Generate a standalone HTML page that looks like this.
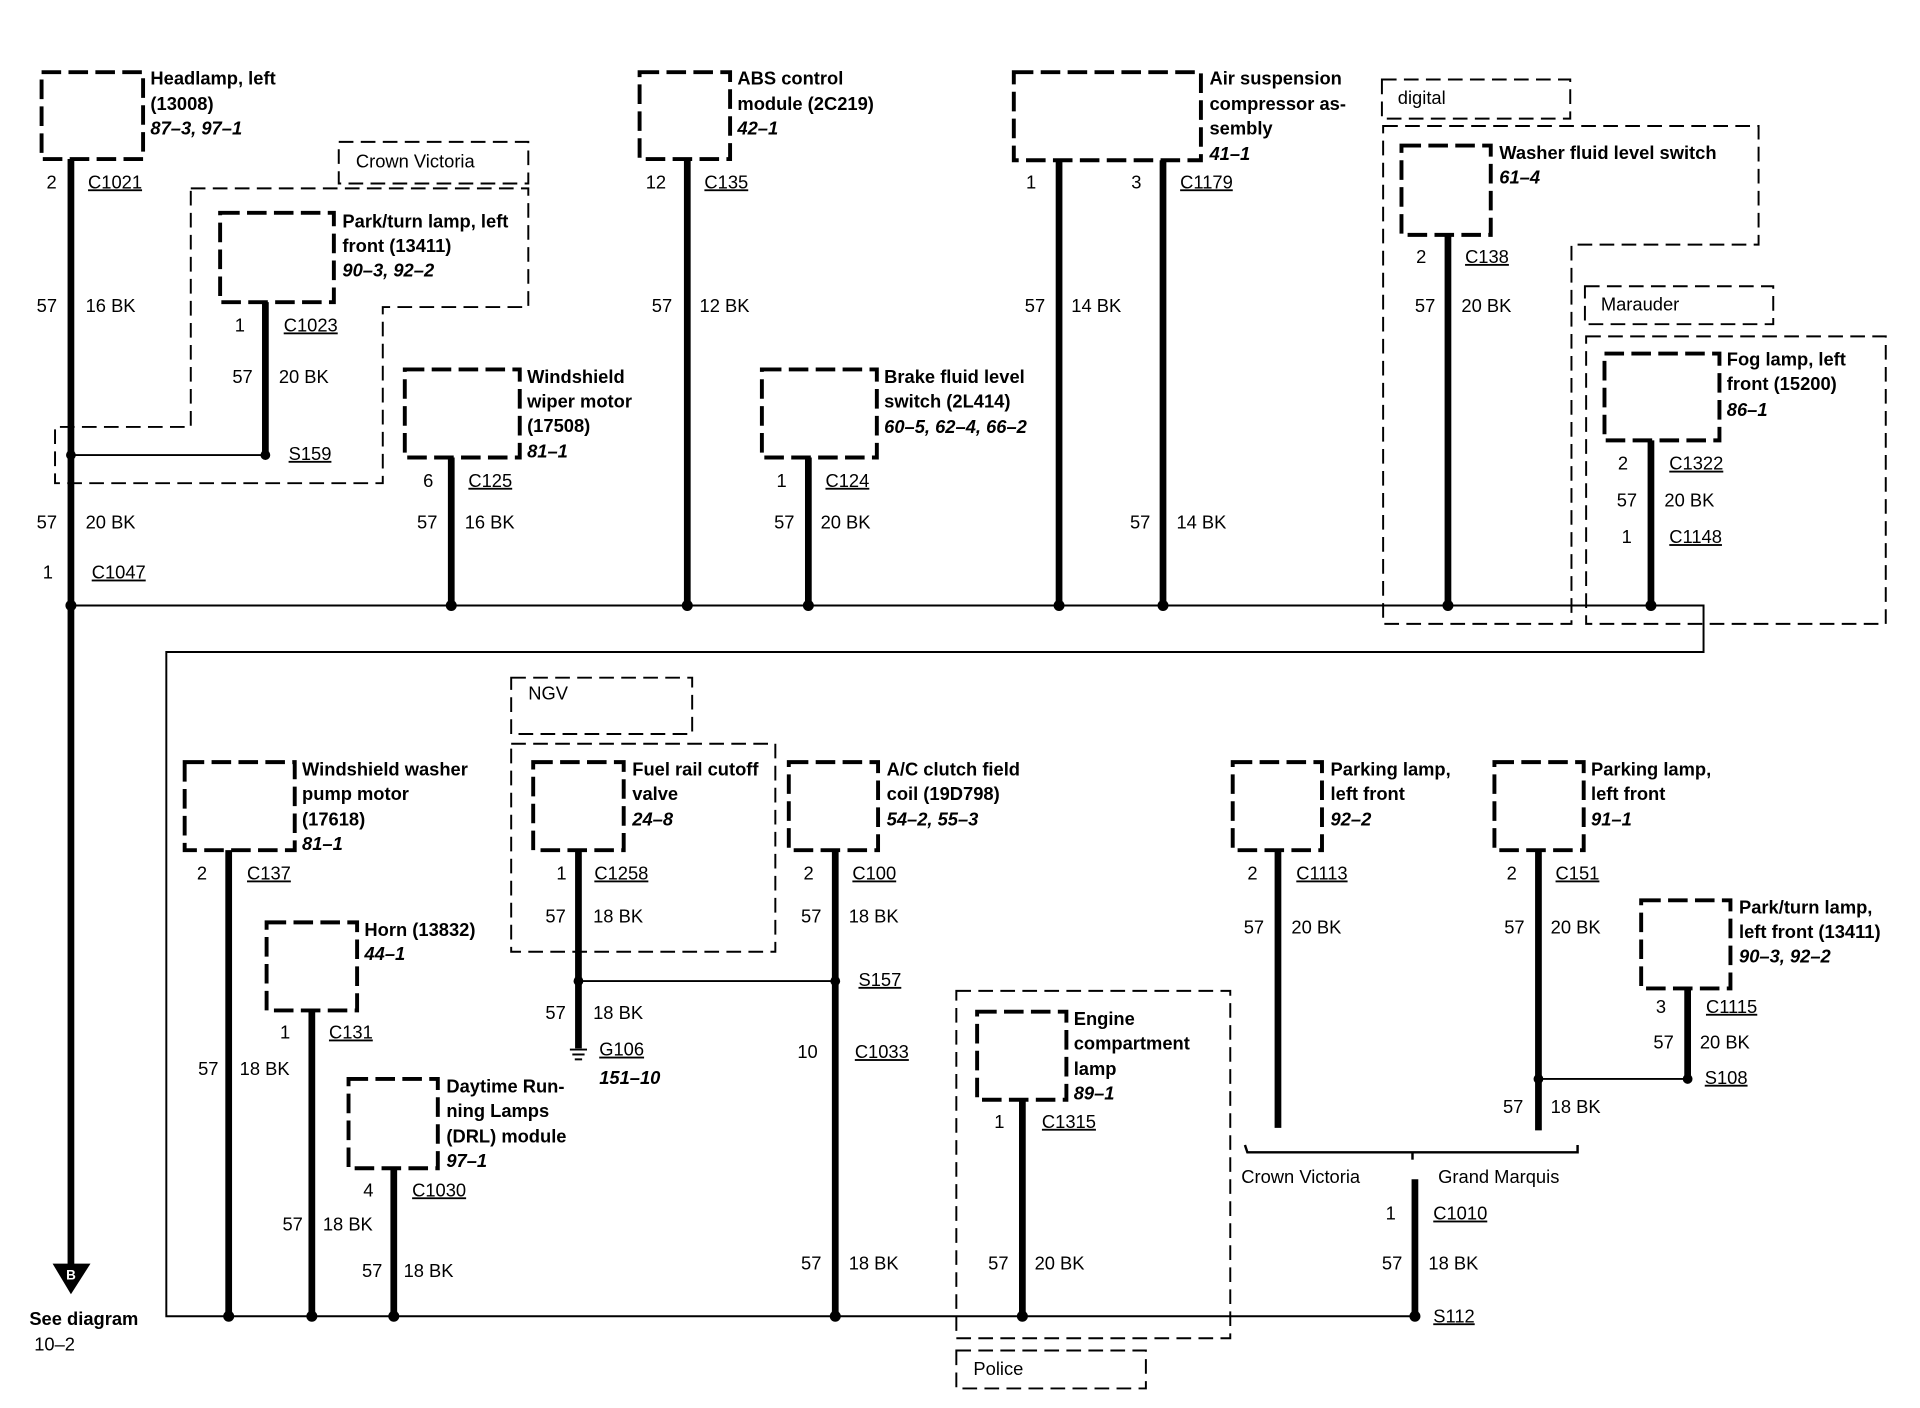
<!DOCTYPE html>
<html><head><meta charset="utf-8"><style>
html,body{margin:0;padding:0;background:#fff;}
svg{display:block;}
text{font-family:"Liberation Sans",Arial,sans-serif;font-size:15px;fill:#000;dominant-baseline:middle;}
.b{font-weight:bold;}
.i{font-weight:bold;font-style:italic;}
.u{text-decoration:underline;}
.bx{fill:none;stroke:#000;stroke-width:3.2;stroke-dasharray:16 6;}
.rg{fill:none;stroke:#000;stroke-width:1.6;stroke-dasharray:12 6;}
.w{stroke:#000;stroke-width:5.5;fill:none;}
.t{stroke:#000;stroke-width:1.6;fill:none;}
</style></head><body>
<svg width="1920" height="1408" viewBox="0 -2 1570 1151" preserveAspectRatio="none" xmlns="http://www.w3.org/2000/svg">
<polyline class="t" points="58,493 1393,493 1393,531 136,531 136,1074 1157,1074"/>
<line class="t" x1="58" y1="370" x2="217" y2="370"/>
<line class="t" x1="473" y1="800" x2="683" y2="800"/>
<line class="t" x1="1258" y1="880" x2="1380" y2="880"/>
<rect class="rg" x="277" y="114" width="155" height="34"/><text x="291" y="131">Crown Victoria</text>
<polygon class="rg" points="156,152 432,152 432,249 313,249 313,393 45,393 45,347 156,347"/>
<rect class="rg" x="1130" y="63" width="154" height="32"/><text x="1143" y="79">digital</text>
<polygon class="rg" points="1131,101 1438,101 1438,198 1285,198 1285,508 1131,508"/>
<rect class="rg" x="1296" y="232" width="154" height="31"/><text x="1309" y="248">Marauder</text>
<rect class="rg" x="1297" y="273" width="245" height="235"/>
<rect class="rg" x="418" y="552" width="148" height="46"/><text x="432" y="566">NGV</text>
<rect class="rg" x="418" y="606" width="216" height="170"/>
<rect class="rg" x="782" y="808" width="224" height="284"/>
<rect class="rg" x="782" y="1102" width="155" height="31"/><text x="796" y="1118">Police</text>
<rect class="bx" x="34" y="57" width="83" height="71"/>
<text class="b" x="123" y="63">Headlamp, left</text><text class="b" x="123" y="84">(13008)</text><text class="i" x="123" y="104">87–3, 97–1</text>
<line class="w" x1="58" y1="128" x2="58" y2="1032"/>
<polygon points="43,1031 74,1031 58,1056"/><text x="58" y="1041" text-anchor="middle" style="fill:#fff;font-size:11px;font-weight:bold">B</text>
<text x="38" y="148">2</text><text class="u" x="72" y="148">C1021</text>
<text x="30" y="249">57</text><text x="70" y="249">16 BK</text>
<circle cx="58" cy="370" r="4"/>
<text x="30" y="426">57</text><text x="70" y="426">20 BK</text>
<text x="35" y="467">1</text><text class="u" x="75" y="467">C1047</text>
<circle cx="58" cy="493" r="4.5"/>
<text class="b" x="24" y="1077">See diagram</text><text x="28" y="1098">10–2</text>
<rect class="bx" x="180" y="172" width="93" height="73"/>
<text class="b" x="280" y="180">Park/turn lamp, left</text><text class="b" x="280" y="200">front (13411)</text><text class="i" x="280" y="220">90–3, 92–2</text>
<line class="w" x1="217" y1="245" x2="217" y2="370"/><circle cx="217" cy="370" r="4"/>
<text x="192" y="265">1</text><text class="u" x="232" y="265">C1023</text>
<text x="190" y="307">57</text><text x="228" y="307">20 BK</text>
<text class="u" x="236" y="370">S159</text>
<rect class="bx" x="331" y="300" width="94" height="72"/>
<text class="b" x="431" y="307">Windshield</text><text class="b" x="431" y="327">wiper motor</text><text class="b" x="431" y="347">(17508)</text><text class="i" x="431" y="368">81–1</text>
<line class="w" x1="369" y1="372" x2="369" y2="493"/><circle cx="369" cy="493" r="4.5"/>
<text x="346" y="392">6</text><text class="u" x="383" y="392">C125</text>
<text x="341" y="426">57</text><text x="380" y="426">16 BK</text>
<rect class="bx" x="523" y="57" width="74" height="71"/>
<text class="b" x="603" y="63">ABS control</text><text class="b" x="603" y="84">module (2C219)</text><text class="i" x="603" y="104">42–1</text>
<line class="w" x1="562" y1="128" x2="562" y2="493"/><circle cx="562" cy="493" r="4.5"/>
<text x="528" y="148">12</text><text class="u" x="576" y="148">C135</text>
<text x="533" y="249">57</text><text x="572" y="249">12 BK</text>
<rect class="bx" x="623" y="300" width="94" height="72"/>
<text class="b" x="723" y="307">Brake fluid level</text><text class="b" x="723" y="327">switch (2L414)</text><text class="i" x="723" y="348">60–5, 62–4, 66–2</text>
<line class="w" x1="661" y1="372" x2="661" y2="493"/><circle cx="661" cy="493" r="4.5"/>
<text x="635" y="392">1</text><text class="u" x="675" y="392">C124</text>
<text x="633" y="426">57</text><text x="671" y="426">20 BK</text>
<rect class="bx" x="829" y="57" width="153" height="72"/>
<text class="b" x="989" y="63">Air suspension</text><text class="b" x="989" y="84">compressor as-</text><text class="b" x="989" y="104">sembly</text><text class="i" x="989" y="125">41–1</text>
<line class="w" x1="866" y1="129" x2="866" y2="493"/><line class="w" x1="951" y1="129" x2="951" y2="493"/>
<circle cx="866" cy="493" r="4.5"/><circle cx="951" cy="493" r="4.5"/>
<text x="839" y="148">1</text><text x="925" y="148">3</text><text class="u" x="965" y="148">C1179</text>
<text x="838" y="249">57</text><text x="876" y="249">14 BK</text>
<text x="924" y="426">57</text><text x="962" y="426">14 BK</text>
<rect class="bx" x="1146" y="117" width="73" height="73"/>
<text class="b" x="1226" y="124">Washer fluid level switch</text><text class="i" x="1226" y="144">61–4</text>
<line class="w" x1="1184" y1="190" x2="1184" y2="493"/><circle cx="1184" cy="493" r="4.5"/>
<text x="1158" y="209">2</text><text class="u" x="1198" y="209">C138</text>
<text x="1157" y="249">57</text><text x="1195" y="249">20 BK</text>
<rect class="bx" x="1312" y="287" width="94" height="71"/>
<text class="b" x="1412" y="293">Fog lamp, left</text><text class="b" x="1412" y="313">front (15200)</text><text class="i" x="1412" y="334">86–1</text>
<line class="w" x1="1350" y1="358" x2="1350" y2="493"/><circle cx="1350" cy="493" r="4.5"/>
<text x="1323" y="378">2</text><text class="u" x="1365" y="378">C1322</text>
<text x="1322" y="408">57</text><text x="1361" y="408">20 BK</text>
<text x="1326" y="438">1</text><text class="u" x="1365" y="438">C1148</text>
<rect class="bx" x="151" y="621" width="90" height="72"/>
<text class="b" x="247" y="628">Windshield washer</text><text class="b" x="247" y="648">pump motor</text><text class="b" x="247" y="669">(17618)</text><text class="i" x="247" y="689">81–1</text>
<line class="w" x1="187" y1="693" x2="187" y2="1074"/><circle cx="187" cy="1074" r="4.5"/>
<text x="161" y="713">2</text><text class="u" x="202" y="713">C137</text>
<text x="162" y="873">57</text><text x="196" y="873">18 BK</text>
<rect class="bx" x="218" y="752" width="74" height="72"/>
<text class="b" x="298" y="759">Horn (13832)</text><text class="i" x="298" y="779">44–1</text>
<line class="w" x1="255" y1="824" x2="255" y2="1074"/><circle cx="255" cy="1074" r="4.5"/>
<text x="229" y="843">1</text><text class="u" x="269" y="843">C131</text>
<text x="231" y="1000">57</text><text x="264" y="1000">18 BK</text>
<rect class="bx" x="285" y="880" width="73" height="73"/>
<text class="b" x="365" y="887">Daytime Run-</text><text class="b" x="365" y="907">ning Lamps</text><text class="b" x="365" y="928">(DRL) module</text><text class="i" x="365" y="948">97–1</text>
<line class="w" x1="322" y1="953" x2="322" y2="1074"/><circle cx="322" cy="1074" r="4.5"/>
<text x="297" y="972">4</text><text class="u" x="337" y="972">C1030</text>
<text x="296" y="1038">57</text><text x="330" y="1038">18 BK</text>
<rect class="bx" x="436" y="621" width="74" height="72"/>
<text class="b" x="517" y="628">Fuel rail cutoff</text><text class="b" x="517" y="648">valve</text><text class="i" x="517" y="669">24–8</text>
<line class="w" x1="473" y1="693" x2="473" y2="855"/><circle cx="473" cy="800" r="4"/>
<line class="t" x1="466" y1="856" x2="480" y2="856"/><line class="t" x1="468" y1="860" x2="478" y2="860"/><line class="t" x1="470" y1="864" x2="476" y2="864"/>
<text x="455" y="713">1</text><text class="u" x="486" y="713">C1258</text>
<text x="446" y="748">57</text><text x="485" y="748">18 BK</text>
<text x="446" y="827">57</text><text x="485" y="827">18 BK</text>
<text class="u" x="490" y="857">G106</text><text class="i" x="490" y="880">151–10</text>
<rect class="bx" x="645" y="621" width="73" height="72"/>
<text class="b" x="725" y="628">A/C clutch field</text><text class="b" x="725" y="648">coil (19D798)</text><text class="i" x="725" y="669">54–2, 55–3</text>
<line class="w" x1="683" y1="693" x2="683" y2="1074"/><circle cx="683" cy="800" r="4"/><circle cx="683" cy="1074" r="4.5"/>
<text x="657" y="713">2</text><text class="u" x="697" y="713">C100</text>
<text x="655" y="748">57</text><text x="694" y="748">18 BK</text>
<text class="u" x="702" y="800">S157</text>
<text x="652" y="859">10</text><text class="u" x="699" y="859">C1033</text>
<text x="655" y="1032">57</text><text x="694" y="1032">18 BK</text>
<rect class="bx" x="799" y="825" width="73" height="72"/>
<text class="b" x="878" y="832">Engine</text><text class="b" x="878" y="852">compartment</text><text class="b" x="878" y="873">lamp</text><text class="i" x="878" y="893">89–1</text>
<line class="w" x1="836" y1="897" x2="836" y2="1074"/><circle cx="836" cy="1074" r="4.5"/>
<text x="813" y="916">1</text><text class="u" x="852" y="916">C1315</text>
<text x="808" y="1032">57</text><text x="846" y="1032">20 BK</text>
<rect class="bx" x="1008" y="621" width="73" height="72"/>
<text class="b" x="1088" y="628">Parking lamp,</text><text class="b" x="1088" y="648">left front</text><text class="i" x="1088" y="669">92–2</text>
<line class="w" x1="1045" y1="693" x2="1045" y2="920"/>
<text x="1020" y="713">2</text><text class="u" x="1060" y="713">C1113</text>
<text x="1017" y="757">57</text><text x="1056" y="757">20 BK</text>
<rect class="bx" x="1222" y="621" width="73" height="72"/>
<text class="b" x="1301" y="628">Parking lamp,</text><text class="b" x="1301" y="648">left front</text><text class="i" x="1301" y="669">91–1</text>
<line class="w" x1="1258" y1="693" x2="1258" y2="922"/><circle cx="1258" cy="880" r="4"/>
<text x="1232" y="713">2</text><text class="u" x="1272" y="713">C151</text>
<text x="1230" y="757">57</text><text x="1268" y="757">20 BK</text>
<text x="1229" y="904">57</text><text x="1268" y="904">18 BK</text>
<rect class="bx" x="1342" y="734" width="73" height="72"/>
<text class="b" x="1422" y="741">Park/turn lamp,</text><text class="b" x="1422" y="761">left front (13411)</text><text class="i" x="1422" y="781">90–3, 92–2</text>
<line class="w" x1="1380" y1="806" x2="1380" y2="880"/><circle cx="1380" cy="880" r="4"/>
<text x="1354" y="822">3</text><text class="u" x="1395" y="822">C1115</text>
<text x="1352" y="851">57</text><text x="1390" y="851">20 BK</text>
<text class="u" x="1394" y="880">S108</text>
<polyline class="t" points="1018,934 1020,940 1290,940 1290,934" style="stroke-width:2"/>
<line class="t" x1="1155" y1="940" x2="1155" y2="946" style="stroke-width:2"/>
<text x="1015" y="961">Crown Victoria</text><text x="1176" y="961">Grand Marquis</text>
<line class="w" x1="1157" y1="962" x2="1157" y2="1074"/><circle cx="1157" cy="1074" r="4.5"/>
<text x="1133" y="991">1</text><text class="u" x="1172" y="991">C1010</text>
<text x="1130" y="1032">57</text><text x="1168" y="1032">18 BK</text>
<text class="u" x="1172" y="1075">S112</text>
</svg>
</body></html>
